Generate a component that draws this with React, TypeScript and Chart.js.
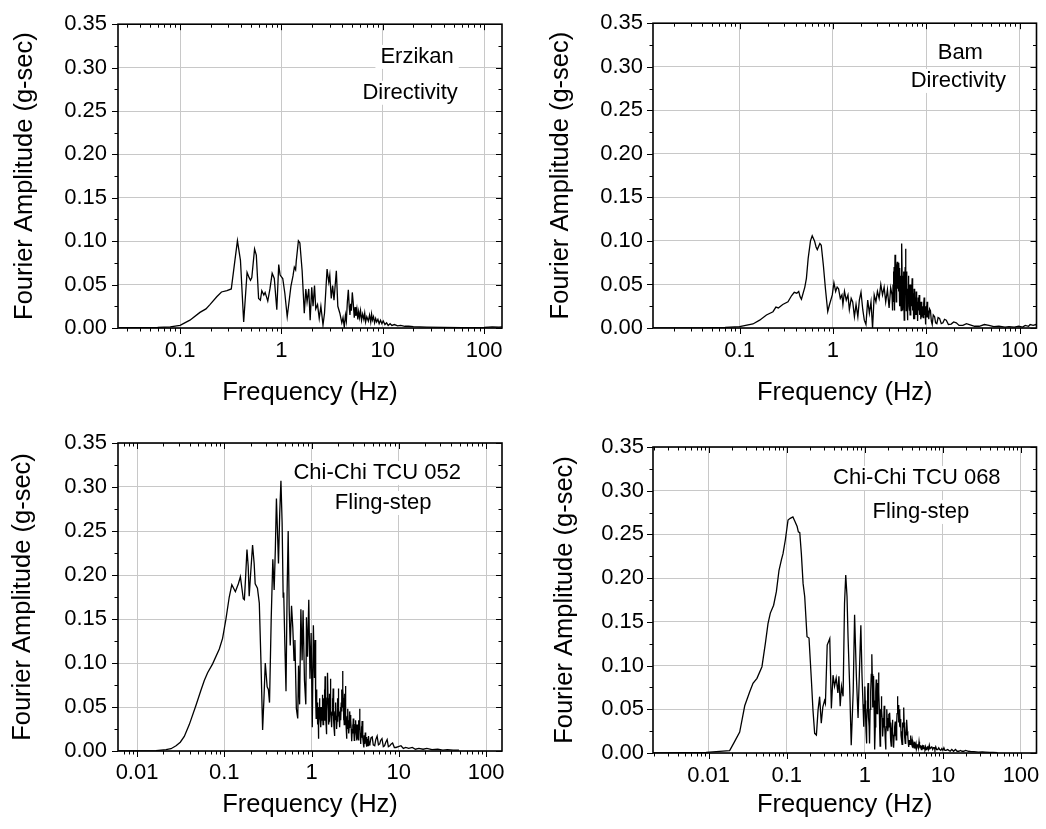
import React, { useEffect, useRef } from 'react';
import { Chart, registerables } from 'chart.js';

Chart.register(...registerables);

const FONT = '"Liberation Sans", Arial, Helvetica, sans-serif';
const GRID = '#c8c8c8';

// [frequency (Hz), Fourier amplitude (g-sec)]
const erzikanSpectrum: [number, number][] = [
  [0.025, 0.0003], [0.04, 0.0004], [0.06, 0.0006], [0.08, 0.0012], [0.1, 0.003], [0.125, 0.009],
  [0.157, 0.018], [0.18, 0.022], [0.197, 0.027], [0.23, 0.036], [0.256, 0.0415], [0.29, 0.043],
  [0.32, 0.045], [0.345, 0.075], [0.368, 0.1005], [0.394, 0.078], [0.424, 0.007], [0.458, 0.064],
  [0.48, 0.058], [0.495, 0.055], [0.51, 0.058], [0.543, 0.091], [0.565, 0.084], [0.595, 0.034],
  [0.62, 0.032], [0.64, 0.043], [0.67, 0.038], [0.69, 0.041], [0.733, 0.031], [0.77, 0.045],
  [0.81, 0.063], [0.85, 0.057], [0.9, 0.021], [0.94, 0.073], [0.97, 0.061], [1.03, 0.057],
  [1.08, 0.04], [1.14, 0.013], [1.24, 0.048], [1.3, 0.06], [1.34, 0.07], [1.38, 0.067],
  [1.4, 0.077], [1.47, 0.1005], [1.52, 0.098], [1.6, 0.066], [1.68, 0.017], [1.74, 0.045],
  [1.79, 0.03], [1.86, 0.045], [1.92, 0.009], [1.99, 0.047], [2.05, 0.025], [2.12, 0.049],
  [2.18, 0.022], [2.27, 0.027], [2.36, 0.011], [2.45, 0.025], [2.57, 0.0035], [2.66, 0.017],
  [2.82, 0.068], [2.93, 0.053], [3.0, 0.061], [3.1, 0.034], [3.2, 0.049], [3.3, 0.032],
  [3.48, 0.066], [3.6, 0.025], [3.77, 0.017], [3.94, 0.006], [4.05, 0.012], [4.17, 0.001],
  [4.28, 0.015], [4.37, 0.008], [4.47, 0.03], [4.57, 0.044], [4.66, 0.025], [4.74, 0.015],
  [4.82, 0.028], [4.9, 0.02], [5.0, 0.041], [5.1, 0.03], [5.23, 0.012], [5.33, 0.024],
  [5.43, 0.014], [5.55, 0.022], [5.67, 0.01], [5.78, 0.019], [5.9, 0.012], [6.03, 0.02],
  [6.17, 0.009], [6.33, 0.016], [6.5, 0.01], [6.63, 0.017], [6.77, 0.007], [6.95, 0.013],
  [7.2, 0.008], [7.4, 0.015], [7.6, 0.007], [7.75, 0.016], [7.9, 0.009], [8.1, 0.013],
  [8.3, 0.006], [8.5, 0.011], [8.7, 0.007], [8.95, 0.01], [9.2, 0.005], [9.5, 0.009],
  [9.8, 0.005], [10.1, 0.008], [10.5, 0.004], [10.9, 0.006], [11.3, 0.003], [11.8, 0.005],
  [12.3, 0.003], [13.0, 0.004], [14, 0.0025], [15, 0.003], [16.5, 0.002], [18, 0.002],
  [20, 0.0015], [27, 0.001], [40, 0.0007], [60, 0.0005], [80, 0.0005], [100, 0.0006],
  [120, 0.0012], [140, 0.001], [150, 0.0012],
];

const bamSpectrum: [number, number][] = [
  [0.0116, 0.0], [0.02, 0.0], [0.04, 0.0002], [0.07, 0.0006], [0.1, 0.0015], [0.139, 0.0046],
  [0.164, 0.009], [0.194, 0.015], [0.228, 0.0187], [0.245, 0.024], [0.26, 0.023], [0.29, 0.027],
  [0.33, 0.03], [0.36, 0.037], [0.385, 0.041], [0.41, 0.04], [0.43, 0.042], [0.445, 0.036],
  [0.46, 0.033], [0.5, 0.047], [0.52, 0.057], [0.543, 0.08], [0.575, 0.1], [0.6, 0.106],
  [0.635, 0.1], [0.66, 0.093], [0.68, 0.09], [0.725, 0.097], [0.75, 0.095], [0.79, 0.072],
  [0.83, 0.046], [0.88, 0.019], [0.92, 0.027], [0.985, 0.038], [1.025, 0.052], [1.07, 0.042],
  [1.11, 0.047], [1.15, 0.045], [1.2, 0.034], [1.25, 0.038], [1.28, 0.027], [1.33, 0.042],
  [1.39, 0.032], [1.45, 0.038], [1.5, 0.021], [1.57, 0.034], [1.63, 0.03], [1.7, 0.013],
  [1.77, 0.027], [1.85, 0.013], [1.92, 0.032], [2.0, 0.041], [2.09, 0.021], [2.17, 0.009],
  [2.26, 0.004], [2.36, 0.032], [2.46, 0.017], [2.56, 0.03], [2.66, 0.0], [2.77, 0.038],
  [2.89, 0.03], [3.0, 0.042], [3.13, 0.034], [3.26, 0.05], [3.4, 0.038], [3.54, 0.047],
  [3.68, 0.03], [3.84, 0.044], [4.0, 0.023], [4.16, 0.046], [4.3, 0.038], [4.36, 0.02],
  [4.41, 0.05], [4.45, 0.065], [4.48, 0.04], [4.5, 0.03], [4.53, 0.07], [4.55, 0.055],
  [4.58, 0.02], [4.6, 0.04], [4.63, 0.084], [4.66, 0.06], [4.68, 0.05], [4.71, 0.075],
  [4.74, 0.061], [4.77, 0.03], [4.8, 0.035], [4.84, 0.07], [4.9, 0.076], [4.93, 0.05],
  [4.97, 0.045], [5.0, 0.065], [5.06, 0.042], [5.09, 0.075], [5.12, 0.06], [5.15, 0.03],
  [5.18, 0.025], [5.2, 0.055], [5.23, 0.069], [5.27, 0.03], [5.3, 0.045], [5.33, 0.06],
  [5.36, 0.032], [5.39, 0.02], [5.42, 0.07], [5.46, 0.08], [5.49, 0.097], [5.52, 0.06],
  [5.55, 0.04], [5.58, 0.06], [5.62, 0.02], [5.67, 0.05], [5.7, 0.065], [5.74, 0.03],
  [5.77, 0.04], [5.81, 0.009], [5.85, 0.03], [5.9, 0.05], [5.95, 0.07], [6.0, 0.091],
  [6.03, 0.06], [6.07, 0.055], [6.11, 0.02], [6.15, 0.04], [6.19, 0.065], [6.22, 0.06],
  [6.26, 0.025], [6.3, 0.009], [6.35, 0.045], [6.4, 0.035], [6.45, 0.06], [6.5, 0.05],
  [6.54, 0.025], [6.58, 0.02], [6.62, 0.05], [6.65, 0.045], [6.72, 0.015], [6.79, 0.021],
  [6.86, 0.05], [6.93, 0.04], [7.0, 0.025], [7.04, 0.045], [7.07, 0.057], [7.12, 0.03],
  [7.18, 0.02], [7.24, 0.04], [7.3, 0.032], [7.36, 0.01], [7.42, 0.045], [7.48, 0.025],
  [7.55, 0.01], [7.61, 0.035], [7.67, 0.03], [7.73, 0.015], [7.8, 0.042], [7.86, 0.025],
  [7.92, 0.015], [7.98, 0.03], [8.05, 0.021], [8.12, 0.008], [8.2, 0.035], [8.3, 0.02],
  [8.4, 0.038], [8.48, 0.02], [8.55, 0.015], [8.65, 0.03], [8.75, 0.01], [8.83, 0.025],
  [8.9, 0.03], [9.0, 0.012], [9.1, 0.025], [9.2, 0.018], [9.3, 0.012], [9.4, 0.028],
  [9.5, 0.035], [9.58, 0.02], [9.65, 0.015], [9.72, 0.025], [9.8, 0.004], [9.9, 0.018],
  [10.0, 0.022], [10.1, 0.012], [10.2, 0.03], [10.3, 0.015], [10.4, 0.012], [10.5, 0.02],
  [10.65, 0.01], [10.85, 0.022], [11.1, 0.02], [11.35, 0.008], [11.6, 0.004], [11.9, 0.015],
  [12.3, 0.013], [12.6, 0.006], [13.0, 0.005], [13.4, 0.012], [13.9, 0.011], [14.5, 0.005],
  [15.1, 0.006], [15.7, 0.01], [16.4, 0.009], [17.3, 0.004], [18.5, 0.0045], [19.7, 0.007],
  [21, 0.006], [22.5, 0.003], [24.7, 0.003], [27, 0.005], [29, 0.004], [33, 0.002],
  [37, 0.002], [42, 0.004], [47, 0.003], [53, 0.0015], [60, 0.002], [70, 0.001],
  [77, 0.0015], [88, 0.001], [98, 0.002], [108, 0.001], [115, 0.003], [125, 0.002],
  [130, 0.004], [140, 0.003], [150, 0.004], [160, 0.003],
];

const tcu052Spectrum: [number, number][] = [
  [0.0061, 0.0], [0.01, 0.0001], [0.0165, 0.0004], [0.0215, 0.0015], [0.0245, 0.0026], [0.028, 0.006],
  [0.0313, 0.01], [0.0348, 0.0165], [0.0397, 0.03], [0.0474, 0.052], [0.054, 0.069], [0.059, 0.08],
  [0.0644, 0.089], [0.0735, 0.099], [0.0877, 0.116], [0.0956, 0.128], [0.1045, 0.15], [0.114, 0.175],
  [0.122, 0.189], [0.134, 0.181], [0.145, 0.19], [0.153, 0.198], [0.165, 0.173], [0.17, 0.172],
  [0.175, 0.195], [0.182, 0.229], [0.188, 0.21], [0.193, 0.176], [0.2, 0.2], [0.211, 0.234],
  [0.22, 0.213], [0.226, 0.19], [0.24, 0.185], [0.252, 0.168], [0.263, 0.103], [0.275, 0.024],
  [0.285, 0.06], [0.295, 0.1], [0.31, 0.073], [0.32, 0.07], [0.33, 0.055], [0.345, 0.15],
  [0.36, 0.218], [0.373, 0.183], [0.385, 0.23], [0.396, 0.287], [0.41, 0.24], [0.418, 0.213],
  [0.432, 0.27], [0.446, 0.307], [0.46, 0.26], [0.473, 0.175], [0.48, 0.18], [0.495, 0.12],
  [0.51, 0.068], [0.525, 0.18], [0.54, 0.25], [0.555, 0.16], [0.57, 0.12], [0.59, 0.165],
  [0.61, 0.14], [0.63, 0.103], [0.645, 0.126], [0.67, 0.048], [0.695, 0.037], [0.71, 0.097],
  [0.73, 0.053], [0.755, 0.161], [0.78, 0.103], [0.8, 0.16], [0.83, 0.08], [0.86, 0.053],
  [0.875, 0.152], [0.9, 0.107], [0.93, 0.172], [0.96, 0.082], [0.99, 0.134], [1.02, 0.027],
  [1.05, 0.143], [1.08, 0.083], [1.1, 0.126], [1.11, 0.09], [1.12, 0.06], [1.13, 0.037],
  [1.14, 0.06], [1.145, 0.07], [1.155, 0.045], [1.16, 0.055], [1.17, 0.04], [1.18, 0.03],
  [1.19, 0.05], [1.2, 0.014], [1.21, 0.03], [1.22, 0.045], [1.23, 0.06], [1.24, 0.053],
  [1.25, 0.04], [1.26, 0.035], [1.27, 0.05], [1.28, 0.027], [1.295, 0.04], [1.31, 0.05],
  [1.32, 0.035], [1.33, 0.064], [1.345, 0.045], [1.355, 0.03], [1.37, 0.06], [1.38, 0.05],
  [1.395, 0.035], [1.405, 0.07], [1.42, 0.05], [1.43, 0.085], [1.445, 0.06], [1.455, 0.04],
  [1.47, 0.03], [1.48, 0.019], [1.495, 0.045], [1.505, 0.06], [1.52, 0.075], [1.53, 0.089],
  [1.545, 0.06], [1.56, 0.05], [1.575, 0.03], [1.59, 0.034], [1.6, 0.05], [1.615, 0.065],
  [1.63, 0.05], [1.64, 0.082], [1.655, 0.06], [1.67, 0.045], [1.685, 0.035], [1.7, 0.027],
  [1.72, 0.045], [1.735, 0.06], [1.75, 0.04], [1.77, 0.071], [1.785, 0.05], [1.8, 0.035],
  [1.815, 0.025], [1.83, 0.017], [1.85, 0.04], [1.865, 0.045], [1.88, 0.035], [1.9, 0.055],
  [1.915, 0.04], [1.93, 0.04], [1.945, 0.025], [1.96, 0.034], [1.98, 0.05], [2.0, 0.06],
  [2.015, 0.04], [2.03, 0.071], [2.05, 0.05], [2.07, 0.04], [2.09, 0.03], [2.11, 0.027],
  [2.13, 0.045], [2.15, 0.05], [2.17, 0.035], [2.19, 0.055], [2.21, 0.045], [2.23, 0.07],
  [2.25, 0.05], [2.27, 0.091], [2.29, 0.07], [2.31, 0.06], [2.33, 0.035], [2.35, 0.048],
  [2.37, 0.03], [2.4, 0.065], [2.42, 0.045], [2.44, 0.074], [2.46, 0.05], [2.48, 0.04],
  [2.5, 0.025], [2.52, 0.014], [2.545, 0.035], [2.57, 0.04], [2.59, 0.025], [2.61, 0.048],
  [2.635, 0.03], [2.66, 0.035], [2.68, 0.02], [2.7, 0.027], [2.725, 0.04], [2.75, 0.045],
  [2.775, 0.03], [2.8, 0.041], [2.825, 0.035], [2.85, 0.025], [2.875, 0.018], [2.9, 0.011],
  [2.93, 0.025], [2.96, 0.03], [2.985, 0.02], [3.01, 0.037], [3.035, 0.02], [3.06, 0.025],
  [3.09, 0.012], [3.12, 0.017], [3.16, 0.03], [3.2, 0.035], [3.245, 0.02], [3.29, 0.03],
  [3.32, 0.012], [3.35, 0.015], [3.385, 0.03], [3.42, 0.023], [3.455, 0.012], [3.49, 0.035],
  [3.525, 0.025], [3.56, 0.048], [3.59, 0.03], [3.62, 0.02], [3.65, 0.008], [3.68, 0.011],
  [3.71, 0.02], [3.74, 0.028], [3.77, 0.015], [3.8, 0.034], [3.845, 0.02], [3.89, 0.015],
  [3.935, 0.008], [3.98, 0.004], [4.015, 0.018], [4.05, 0.015], [4.09, 0.008], [4.13, 0.021],
  [4.175, 0.012], [4.22, 0.01], [4.265, 0.016], [4.31, 0.005], [4.355, 0.012], [4.4, 0.014],
  [4.45, 0.006], [4.5, 0.017], [4.58, 0.007], [4.67, 0.008], [4.8, 0.015], [4.96, 0.016],
  [5.1, 0.007], [5.3, 0.006], [5.45, 0.013], [5.65, 0.017], [5.85, 0.007], [6.05, 0.008],
  [6.2, 0.012], [6.42, 0.014], [6.65, 0.005], [6.87, 0.006], [7.1, 0.01], [7.36, 0.013],
  [7.6, 0.005], [7.9, 0.006], [8.2, 0.008], [8.5, 0.009], [8.9, 0.004], [9.3, 0.004],
  [9.9, 0.005], [10.6, 0.006], [11.3, 0.003], [12, 0.004], [13, 0.003], [14.3, 0.004],
  [15.5, 0.002], [17, 0.003], [19, 0.002], [21, 0.003], [24, 0.0015], [28, 0.002],
  [32, 0.001], [36, 0.0015], [42, 0.001], [49, 0.001],
];

const tcu068Spectrum: [number, number][] = [
  [0.00194, 0.0], [0.005, 0.0003], [0.0093, 0.0008], [0.0186, 0.0027], [0.0215, 0.013], [0.025, 0.024],
  [0.029, 0.054], [0.0336, 0.07], [0.037, 0.0797], [0.0416, 0.0854], [0.0482, 0.0987], [0.0533, 0.1254],
  [0.0576, 0.148], [0.0617, 0.16], [0.068, 0.169], [0.0737, 0.1845], [0.0797, 0.209], [0.0855, 0.221],
  [0.0897, 0.228], [0.096, 0.2436], [0.104, 0.2665], [0.111, 0.2684], [0.12, 0.27], [0.128, 0.2646],
  [0.136, 0.259], [0.141, 0.253], [0.147, 0.252], [0.154, 0.228], [0.162, 0.194], [0.17, 0.179],
  [0.182, 0.133], [0.193, 0.1315], [0.207, 0.0835], [0.217, 0.049], [0.228, 0.0225], [0.24, 0.0206],
  [0.252, 0.049], [0.264, 0.0644], [0.277, 0.034], [0.29, 0.0525], [0.305, 0.06], [0.313, 0.0567],
  [0.33, 0.1235], [0.356, 0.131], [0.373, 0.051], [0.392, 0.089], [0.41, 0.0763], [0.43, 0.0858],
  [0.452, 0.0686], [0.466, 0.0877], [0.484, 0.0534], [0.503, 0.0763], [0.527, 0.0648], [0.55, 0.171],
  [0.57, 0.2036], [0.592, 0.179], [0.61, 0.133], [0.64, 0.0763], [0.67, 0.009], [0.71, 0.07],
  [0.74, 0.158], [0.78, 0.0877], [0.82, 0.0401], [0.86, 0.103], [0.89, 0.146], [0.92, 0.09],
  [0.945, 0.06], [0.97, 0.03], [0.985, 0.055], [1.0, 0.076], [1.012, 0.06], [1.025, 0.04],
  [1.037, 0.025], [1.05, 0.011], [1.062, 0.035], [1.075, 0.05], [1.087, 0.07], [1.1, 0.08],
  [1.112, 0.06], [1.125, 0.04], [1.137, 0.03], [1.15, 0.011], [1.17, 0.05], [1.19, 0.07],
  [1.21, 0.09], [1.23, 0.113], [1.245, 0.09], [1.26, 0.052], [1.27, 0.065], [1.28, 0.075],
  [1.29, 0.06], [1.3, 0.088], [1.312, 0.06], [1.325, 0.04], [1.337, 0.02], [1.35, 0.004],
  [1.362, 0.03], [1.375, 0.05], [1.387, 0.07], [1.4, 0.084], [1.412, 0.06], [1.425, 0.07],
  [1.437, 0.045], [1.45, 0.058], [1.462, 0.07], [1.475, 0.08], [1.487, 0.06], [1.5, 0.092],
  [1.517, 0.07], [1.535, 0.05], [1.552, 0.025], [1.57, 0.008], [1.585, 0.03], [1.6, 0.04],
  [1.615, 0.05], [1.63, 0.065], [1.647, 0.05], [1.665, 0.04], [1.682, 0.03], [1.7, 0.019],
  [1.717, 0.03], [1.735, 0.04], [1.752, 0.03], [1.77, 0.054], [1.79, 0.04], [1.81, 0.03],
  [1.83, 0.015], [1.85, 0.004], [1.867, 0.02], [1.885, 0.03], [1.902, 0.04], [1.92, 0.05],
  [1.94, 0.035], [1.96, 0.04], [1.98, 0.025], [2.0, 0.031], [2.02, 0.045], [2.04, 0.04],
  [2.06, 0.03], [2.08, 0.046], [2.105, 0.035], [2.13, 0.03], [2.155, 0.015], [2.18, 0.008],
  [2.2, 0.02], [2.22, 0.025], [2.24, 0.03], [2.26, 0.038], [2.28, 0.025], [2.3, 0.02],
  [2.325, 0.012], [2.35, 0.006], [2.375, 0.02], [2.4, 0.025], [2.425, 0.03], [2.45, 0.036],
  [2.475, 0.02], [2.5, 0.028], [2.525, 0.015], [2.55, 0.023], [2.57, 0.035], [2.59, 0.045],
  [2.61, 0.05], [2.63, 0.065], [2.66, 0.045], [2.69, 0.055], [2.72, 0.035], [2.75, 0.05],
  [2.785, 0.03], [2.82, 0.045], [2.85, 0.03], [2.88, 0.039], [2.91, 0.02], [2.94, 0.025],
  [2.97, 0.015], [3.0, 0.01], [3.035, 0.025], [3.07, 0.035], [3.11, 0.03], [3.15, 0.052],
  [3.185, 0.035], [3.22, 0.03], [3.26, 0.018], [3.3, 0.011], [3.34, 0.02], [3.38, 0.025],
  [3.415, 0.02], [3.45, 0.038], [3.5, 0.025], [3.55, 0.02], [3.6, 0.012], [3.65, 0.007],
  [3.7, 0.014], [3.76, 0.015], [3.81, 0.01], [3.87, 0.02], [3.92, 0.012], [3.98, 0.01],
  [4.04, 0.014], [4.1, 0.006], [4.16, 0.012], [4.22, 0.01], [4.28, 0.006], [4.35, 0.013],
  [4.42, 0.009], [4.48, 0.007], [4.54, 0.01], [4.6, 0.005], [4.7, 0.008], [4.78, 0.01],
  [4.86, 0.006], [4.95, 0.013], [5.02, 0.008], [5.1, 0.006], [5.2, 0.009], [5.3, 0.004],
  [5.39, 0.007], [5.48, 0.008], [5.57, 0.005], [5.67, 0.009], [5.78, 0.005], [5.9, 0.004],
  [6.0, 0.007], [6.1, 0.004], [6.25, 0.006], [6.4, 0.007], [6.55, 0.004], [6.7, 0.009],
  [6.85, 0.005], [7.0, 0.005], [7.2, 0.007], [7.4, 0.004], [7.55, 0.006], [7.75, 0.006],
  [7.9, 0.004], [8.1, 0.007], [8.3, 0.004], [8.6, 0.004], [8.85, 0.006], [9.1, 0.004],
  [9.4, 0.003], [9.7, 0.005], [10.0, 0.003], [10.3, 0.006], [10.6, 0.003], [11, 0.003],
  [11.5, 0.004], [11.9, 0.003], [12.4, 0.002], [13, 0.004], [13.7, 0.002], [14.5, 0.004],
  [15.2, 0.002], [16, 0.002], [16.8, 0.003], [17.6, 0.002], [18.5, 0.002], [19.5, 0.003],
  [21.3, 0.002], [23, 0.0015], [25, 0.0015], [28.5, 0.001], [32, 0.0012], [35, 0.001],
  [40, 0.0008], [44, 0.0008], [50, 0.0005],
];

const yAxisTitle = 'Fourier Amplitude (g-sec)';
const xAxisTitle = 'Frequency (Hz)';
const ampMax = 0.35;
const ampStep = 0.05;
const ampMinorStep = 0.025;

type Note = { text: string; f: number; a: number };
type Panel = {
  key: string;
  series: [number, number][];
  xMin: number;
  xMax: number;
  notes: Note[];
  box: { left: number; top: number; width: number; height: number };
  yWidth: number;
  xHeight: number;
  padTop: number;
  padRight: number;
  yTickPad: number;
  xTickPad: number;
  yTitlePad: number;
  xTitlePad: number;
};

const panels: Panel[] = [
  {
    key: 'erzikan', series: erzikanSpectrum, xMin: 0.0244, xMax: 150,
    notes: [{ text: 'Erzikan', f: 21.8, a: 0.3123 }, { text: 'Directivity', f: 18.6, a: 0.271 }],
    box: { left: 0, top: 0, width: 520, height: 410 }, yWidth: 118, xHeight: 82, padTop: 22, padRight: 18,
    yTickPad: 11, xTickPad: 9.5, yTitlePad: 10, xTitlePad: 2,
  },
  {
    key: 'bam', series: bamSpectrum, xMin: 0.0118, xMax: 152,
    notes: [{ text: 'Bam', f: 23.2, a: 0.316 }, { text: 'Directivity', f: 22.1, a: 0.2837 }],
    box: { left: 523, top: 0, width: 523, height: 410 }, yWidth: 130, xHeight: 82, padTop: 22, padRight: 8,
    yTickPad: 10, xTickPad: 9.5, yTitlePad: 23, xTitlePad: 2,
  },
  {
    key: 'tcu052', series: tcu052Spectrum, xMin: 0.00605, xMax: 152.5,
    notes: [{ text: 'Chi-Chi TCU 052', f: 5.66, a: 0.316 }, { text: 'Fling-step', f: 6.62, a: 0.2818 }],
    box: { left: 0, top: 410, width: 520, height: 419 }, yWidth: 118, xHeight: 78, padTop: 33, padRight: 18,
    yTickPad: 11, xTickPad: 9, yTitlePad: 8, xTitlePad: 9,
  },
  {
    key: 'tcu068', series: tcu068Spectrum, xMin: 0.00194, xMax: 158,
    notes: [{ text: 'Chi-Chi TCU 068', f: 4.64, a: 0.3145 }, { text: 'Fling-step', f: 5.22, a: 0.2757 }],
    box: { left: 523, top: 410, width: 523, height: 419 }, yWidth: 130, xHeight: 76, padTop: 37, padRight: 7,
    yTickPad: 9, xTickPad: 9.5, yTitlePad: 27, xTitlePad: 9,
  },
];

function isDecade(v: number): boolean {
  const l = Math.log10(v);
  return Math.abs(l - Math.round(l)) < 1e-6;
}

function notesPlugin(notes: Note[]) {
  return {
    id: 'notes',
    beforeDatasetsDraw(chart: any) {
      const ctx = chart.ctx as CanvasRenderingContext2D;
      const xs = chart.scales.x;
      const ys = chart.scales.y;
      ctx.save();
      ctx.font = `22px ${FONT}`;
      ctx.textAlign = 'center';
      ctx.textBaseline = 'middle';
      for (const n of notes) {
        const px = xs.getPixelForValue(n.f);
        const py = ys.getPixelForValue(n.a);
        const w = ctx.measureText(n.text).width;
        ctx.fillStyle = '#ffffff';
        ctx.fillRect(px - w / 2 - 5, py - 12, w + 10, 24);
        ctx.fillStyle = '#000000';
        ctx.fillText(n.text, px, py);
      }
      ctx.restore();
    },
  };
}

const framePlugin = {
  id: 'frameTicks',
  afterDraw(chart: any) {
    const ctx = chart.ctx as CanvasRenderingContext2D;
    const { left, right, top, bottom } = chart.chartArea;
    const xs = chart.scales.x;
    const ys = chart.scales.y;
    ctx.save();
    ctx.strokeStyle = '#000000';
    ctx.lineWidth = 1;
    ctx.beginPath();
    const d0 = Math.floor(Math.log10(xs.min));
    const d1 = Math.ceil(Math.log10(xs.max));
    for (let d = d0; d <= d1; d++) {
      for (let k = 1; k <= 9; k++) {
        const v = k * Math.pow(10, d);
        if (v < xs.min || v > xs.max) continue;
        const px = Math.round(xs.getPixelForValue(v)) + 0.5;
        const len = k === 1 ? 6 : 3.5;
        ctx.moveTo(px, bottom);
        ctx.lineTo(px, bottom + len);
        ctx.moveTo(px, top);
        ctx.lineTo(px, top + len);
      }
    }
    const n = Math.round(ampMax / ampMinorStep);
    for (let i = 0; i <= n; i++) {
      const v = i * ampMinorStep;
      const py = Math.round(ys.getPixelForValue(v)) + 0.5;
      const len = i % 2 === 0 ? 6 : 3.5;
      ctx.moveTo(left, py);
      ctx.lineTo(left - len, py);
      ctx.moveTo(right, py);
      ctx.lineTo(right - len, py);
    }
    ctx.stroke();
    ctx.lineWidth = 1.6;
    ctx.strokeRect(left, top, right - left, bottom - top);
    ctx.restore();
  },
};

function PanelChart({ p }: { p: Panel }) {
  const ref = useRef<HTMLCanvasElement>(null);
  useEffect(() => {
    const canvas = ref.current;
    if (!canvas) return;
    const chart = new Chart(canvas, {
      type: 'scatter',
      data: {
        datasets: [
          {
            data: p.series.map(([f, a]) => ({ x: f, y: a })),
            showLine: true,
            borderColor: '#000000',
            borderWidth: 1.3,
            pointRadius: 0,
            pointHoverRadius: 0,
            tension: 0,
            fill: false,
          } as any,
        ],
      },
      options: {
        responsive: false,
        animation: false,
        devicePixelRatio: 1,
        events: [],
        layout: { padding: { left: 0, top: p.padTop, right: p.padRight, bottom: 0 } },
        plugins: { legend: { display: false }, tooltip: { enabled: false } },
        scales: {
          x: {
            type: 'logarithmic',
            min: p.xMin,
            max: p.xMax,
            border: { display: false },
            grid: {
              drawTicks: false,
              lineWidth: 1,
              color: (c: any) => (c.tick && isDecade(c.tick.value) ? GRID : 'rgba(0,0,0,0)'),
            },
            ticks: {
              autoSkip: false,
              maxRotation: 0,
              minRotation: 0,
              padding: p.xTickPad,
              color: '#000000',
              font: { family: FONT, size: 22 },
              callback: (v: any) => (isDecade(Number(v)) ? String(Number(Number(v).toPrecision(1))) : ''),
            },
            title: {
              display: true,
              text: xAxisTitle,
              color: '#000000',
              font: { family: FONT, size: 25.5 },
              padding: { top: 0, bottom: p.xTitlePad },
            },
            afterFit: (s: any) => {
              s.height = p.xHeight;
            },
          },
          y: {
            type: 'linear',
            min: 0,
            max: ampMax,
            border: { display: false },
            grid: { drawTicks: false, lineWidth: 1, color: GRID },
            ticks: {
              stepSize: ampStep,
              padding: p.yTickPad,
              color: '#000000',
              font: { family: FONT, size: 22 },
              callback: (v: any) => Number(v).toFixed(2),
            },
            title: {
              display: true,
              text: yAxisTitle,
              color: '#000000',
              font: { family: FONT, size: 25.5 },
              padding: { top: p.yTitlePad, bottom: 0 },
            },
            afterFit: (s: any) => {
              s.width = p.yWidth;
            },
          },
        },
      } as any,
      plugins: [notesPlugin(p.notes), framePlugin],
    });
    return () => chart.destroy();
  }, [p]);
  return (
    <canvas
      ref={ref}
      width={p.box.width}
      height={p.box.height}
      style={{
        position: 'absolute',
        left: p.box.left,
        top: p.box.top,
        width: p.box.width,
        height: p.box.height,
      }}
    />
  );
}

export default function App() {
  return (
    <div
      style={{
        position: 'fixed',
        left: 0,
        top: 0,
        width: 1046,
        height: 829,
        background: '#ffffff',
        overflow: 'hidden',
      }}
    >
      {panels.map((p) => (
        <PanelChart key={p.key} p={p} />
      ))}
    </div>
  );
}
